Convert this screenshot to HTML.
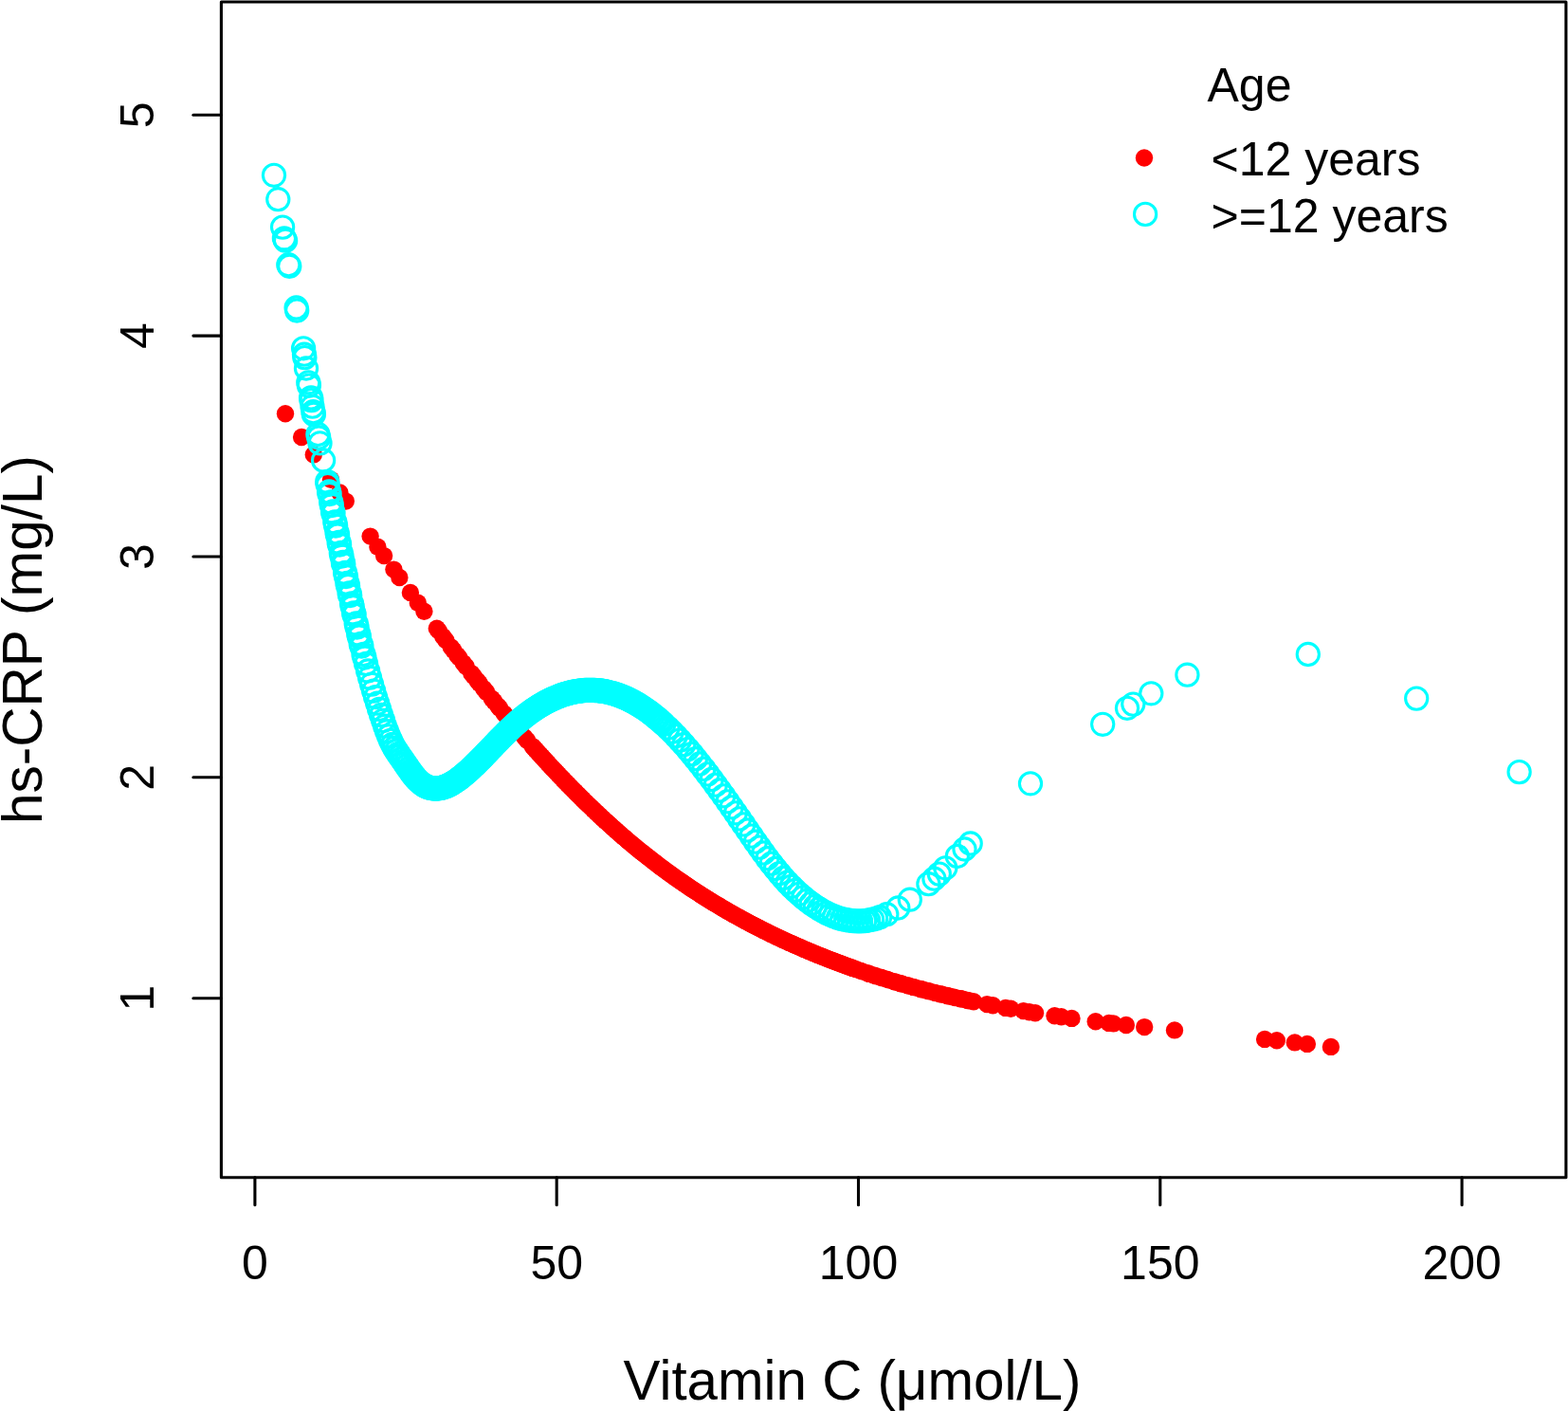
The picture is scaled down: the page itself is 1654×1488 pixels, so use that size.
<!DOCTYPE html>
<html><head><meta charset="utf-8"><style>
html,body{margin:0;padding:0;background:#fff;overflow:hidden}
svg{display:block}
</style></head><body>
<svg width="1654" height="1488" viewBox="0 0 1654 1488" font-family="'Liberation Sans', Arial, sans-serif">
<rect width="1654" height="1488" fill="#fff"/>
<g fill="#f00"><circle cx="301" cy="436.2" r="9.2"/><circle cx="318.1" cy="461" r="9.2"/><circle cx="330.8" cy="479.4" r="9.2"/><circle cx="349" cy="505.8" r="9.2"/><circle cx="358.4" cy="519.4" r="9.2"/><circle cx="364.8" cy="528.6" r="9.2"/><circle cx="390.6" cy="565.6" r="9.2"/><circle cx="398.4" cy="576.7" r="9.2"/><circle cx="405.1" cy="586.1" r="9.2"/><circle cx="415.4" cy="600.6" r="9.2"/><circle cx="421.4" cy="609" r="9.2"/><circle cx="432.9" cy="624.9" r="9.2"/><circle cx="440.8" cy="635.7" r="9.2"/><circle cx="447.4" cy="644.7" r="9.2"/><circle cx="1041.2" cy="1059.1" r="9.2"/><circle cx="1047.3" cy="1060.3" r="9.2"/><circle cx="1060.8" cy="1062.9" r="9.2"/><circle cx="1066.2" cy="1063.8" r="9.2"/><circle cx="1079.6" cy="1066.1" r="9.2"/><circle cx="1085.8" cy="1067.2" r="9.2"/><circle cx="1092" cy="1068.2" r="9.2"/><circle cx="1112.5" cy="1071.3" r="9.2"/><circle cx="1119.5" cy="1072.3" r="9.2"/><circle cx="1130.5" cy="1073.9" r="9.2"/><circle cx="1155.7" cy="1077.2" r="9.2"/><circle cx="1169.8" cy="1078.9" r="9.2"/><circle cx="1174.5" cy="1079.4" r="9.2"/><circle cx="1187.9" cy="1081" r="9.2"/><circle cx="1207.2" cy="1083.1" r="9.2"/><circle cx="1239" cy="1086.4" r="9.2"/><circle cx="1334.1" cy="1095.9" r="9.2"/><circle cx="1346.8" cy="1097.3" r="9.2"/><circle cx="1365.8" cy="1099.4" r="9.2"/><circle cx="1378.9" cy="1100.9" r="9.2"/><circle cx="1403.9" cy="1103.9" r="9.2"/><circle cx="460.8" cy="662.7" r="9.2"/><circle cx="462.8" cy="665.3" r="9.2"/><circle cx="467.3" cy="671.3" r="9.2"/><circle cx="470.3" cy="675.2" r="9.2"/><circle cx="475.8" cy="682.4" r="9.2"/><circle cx="478.3" cy="685.7" r="9.2"/><circle cx="482.3" cy="690.9" r="9.2"/><circle cx="484.3" cy="693.5" r="9.2"/><circle cx="488.8" cy="699.2" r="9.2"/><circle cx="491.8" cy="703.1" r="9.2"/><circle cx="497.3" cy="710.1" r="9.2"/><circle cx="499.8" cy="713.2" r="9.2"/><circle cx="503.8" cy="718.2" r="9.2"/><circle cx="505.8" cy="720.7" r="9.2"/><circle cx="510.3" cy="726.3" r="9.2"/><circle cx="513.3" cy="730" r="9.2"/><circle cx="518.8" cy="736.7" r="9.2"/><circle cx="521.3" cy="739.8" r="9.2"/><circle cx="525.3" cy="744.6" r="9.2"/><circle cx="527.3" cy="747" r="9.2"/><circle cx="531.8" cy="752.4" r="9.2"/><circle cx="534.8" cy="756" r="9.2"/><circle cx="540.3" cy="762.4" r="9.2"/><circle cx="542.8" cy="765.4" r="9.2"/><circle cx="546.8" cy="770" r="9.2"/><circle cx="548.8" cy="772.3" r="9.2"/><circle cx="553.3" cy="777.5" r="9.2"/><circle cx="556.3" cy="780.9" r="9.2"/><circle cx="561.8" cy="787.1" r="9.2"/><circle cx="563.4" cy="788.9" r="9.2"/><circle cx="565" cy="790.7" r="9.2"/><circle cx="566.6" cy="792.5" r="9.2"/><circle cx="568.2" cy="794.2" r="9.2"/><circle cx="569.8" cy="796" r="9.2"/><circle cx="571.4" cy="797.8" r="9.2"/><circle cx="573" cy="799.5" r="9.2"/><circle cx="574.6" cy="801.3" r="9.2"/><circle cx="576.2" cy="803" r="9.2"/><circle cx="577.8" cy="804.7" r="9.2"/><circle cx="579.4" cy="806.5" r="9.2"/><circle cx="581" cy="808.2" r="9.2"/><circle cx="582.6" cy="809.9" r="9.2"/><circle cx="584.2" cy="811.6" r="9.2"/><circle cx="585.8" cy="813.3" r="9.2"/><circle cx="587.4" cy="815" r="9.2"/><circle cx="589" cy="816.7" r="9.2"/><circle cx="590.6" cy="818.4" r="9.2"/><circle cx="592.2" cy="820.1" r="9.2"/><circle cx="593.8" cy="821.7" r="9.2"/><circle cx="595.4" cy="823.4" r="9.2"/><circle cx="597" cy="825" r="9.2"/><circle cx="598.6" cy="826.7" r="9.2"/><circle cx="600.2" cy="828.3" r="9.2"/><circle cx="601.8" cy="830" r="9.2"/><circle cx="603.4" cy="831.6" r="9.2"/><circle cx="605" cy="833.2" r="9.2"/><circle cx="606.6" cy="834.8" r="9.2"/><circle cx="608.2" cy="836.4" r="9.2"/><circle cx="609.8" cy="838" r="9.2"/><circle cx="611.4" cy="839.6" r="9.2"/><circle cx="613" cy="841.2" r="9.2"/><circle cx="614.6" cy="842.8" r="9.2"/><circle cx="616.2" cy="844.4" r="9.2"/><circle cx="617.8" cy="845.9" r="9.2"/><circle cx="619.4" cy="847.5" r="9.2"/><circle cx="621" cy="849.1" r="9.2"/><circle cx="622.6" cy="850.6" r="9.2"/><circle cx="624.2" cy="852.1" r="9.2"/><circle cx="625.8" cy="853.7" r="9.2"/><circle cx="627.4" cy="855.2" r="9.2"/><circle cx="629" cy="856.7" r="9.2"/><circle cx="630.6" cy="858.2" r="9.2"/><circle cx="632.2" cy="859.7" r="9.2"/><circle cx="633.8" cy="861.2" r="9.2"/><circle cx="635.4" cy="862.7" r="9.2"/><circle cx="637" cy="864.2" r="9.2"/><circle cx="638.6" cy="865.7" r="9.2"/><circle cx="640.2" cy="867.1" r="9.2"/><circle cx="641.8" cy="868.6" r="9.2"/><circle cx="643.4" cy="870" r="9.2"/><circle cx="645" cy="871.5" r="9.2"/><circle cx="646.6" cy="872.9" r="9.2"/><circle cx="648.2" cy="874.3" r="9.2"/><circle cx="649.8" cy="875.8" r="9.2"/><circle cx="651.4" cy="877.2" r="9.2"/><circle cx="653" cy="878.6" r="9.2"/><circle cx="654.6" cy="880" r="9.2"/><circle cx="656.2" cy="881.4" r="9.2"/><circle cx="657.8" cy="882.8" r="9.2"/><circle cx="659.4" cy="884.1" r="9.2"/><circle cx="661" cy="885.5" r="9.2"/><circle cx="662.6" cy="886.9" r="9.2"/><circle cx="664.2" cy="888.2" r="9.2"/><circle cx="665.8" cy="889.6" r="9.2"/><circle cx="667.4" cy="890.9" r="9.2"/><circle cx="669" cy="892.2" r="9.2"/><circle cx="670.6" cy="893.5" r="9.2"/><circle cx="672.2" cy="894.9" r="9.2"/><circle cx="673.8" cy="896.2" r="9.2"/><circle cx="675.4" cy="897.5" r="9.2"/><circle cx="677" cy="898.8" r="9.2"/><circle cx="678.6" cy="900" r="9.2"/><circle cx="680.2" cy="901.3" r="9.2"/><circle cx="681.8" cy="902.6" r="9.2"/><circle cx="683.4" cy="903.8" r="9.2"/><circle cx="685" cy="905.1" r="9.2"/><circle cx="686.6" cy="906.3" r="9.2"/><circle cx="688.2" cy="907.6" r="9.2"/><circle cx="689.8" cy="908.8" r="9.2"/><circle cx="691.4" cy="910" r="9.2"/><circle cx="693" cy="911.3" r="9.2"/><circle cx="694.6" cy="912.5" r="9.2"/><circle cx="696.2" cy="913.7" r="9.2"/><circle cx="697.8" cy="914.9" r="9.2"/><circle cx="699.4" cy="916.1" r="9.2"/><circle cx="701" cy="917.3" r="9.2"/><circle cx="702.6" cy="918.4" r="9.2"/><circle cx="704.2" cy="919.6" r="9.2"/><circle cx="705.8" cy="920.8" r="9.2"/><circle cx="707.4" cy="921.9" r="9.2"/><circle cx="709" cy="923.1" r="9.2"/><circle cx="710.6" cy="924.2" r="9.2"/><circle cx="712.2" cy="925.4" r="9.2"/><circle cx="713.8" cy="926.5" r="9.2"/><circle cx="715.4" cy="927.6" r="9.2"/><circle cx="717" cy="928.7" r="9.2"/><circle cx="718.6" cy="929.8" r="9.2"/><circle cx="720.2" cy="930.9" r="9.2"/><circle cx="721.8" cy="932" r="9.2"/><circle cx="723.4" cy="933.1" r="9.2"/><circle cx="725" cy="934.2" r="9.2"/><circle cx="726.6" cy="935.3" r="9.2"/><circle cx="728.2" cy="936.4" r="9.2"/><circle cx="729.8" cy="937.4" r="9.2"/><circle cx="731.4" cy="938.5" r="9.2"/><circle cx="733" cy="939.5" r="9.2"/><circle cx="734.6" cy="940.6" r="9.2"/><circle cx="736.2" cy="941.6" r="9.2"/><circle cx="737.8" cy="942.6" r="9.2"/><circle cx="739.4" cy="943.7" r="9.2"/><circle cx="741" cy="944.7" r="9.2"/><circle cx="742.6" cy="945.7" r="9.2"/><circle cx="744.2" cy="946.7" r="9.2"/><circle cx="745.8" cy="947.7" r="9.2"/><circle cx="747.4" cy="948.7" r="9.2"/><circle cx="749" cy="949.7" r="9.2"/><circle cx="750.6" cy="950.7" r="9.2"/><circle cx="752.2" cy="951.7" r="9.2"/><circle cx="753.8" cy="952.7" r="9.2"/><circle cx="755.4" cy="953.6" r="9.2"/><circle cx="757" cy="954.6" r="9.2"/><circle cx="758.6" cy="955.5" r="9.2"/><circle cx="760.2" cy="956.5" r="9.2"/><circle cx="761.8" cy="957.4" r="9.2"/><circle cx="763.4" cy="958.4" r="9.2"/><circle cx="765" cy="959.3" r="9.2"/><circle cx="766.6" cy="960.2" r="9.2"/><circle cx="768.2" cy="961.2" r="9.2"/><circle cx="769.8" cy="962.1" r="9.2"/><circle cx="771.4" cy="963" r="9.2"/><circle cx="773" cy="963.9" r="9.2"/><circle cx="774.6" cy="964.8" r="9.2"/><circle cx="776.2" cy="965.7" r="9.2"/><circle cx="777.8" cy="966.6" r="9.2"/><circle cx="779.4" cy="967.5" r="9.2"/><circle cx="781" cy="968.3" r="9.2"/><circle cx="782.6" cy="969.2" r="9.2"/><circle cx="784.2" cy="970.1" r="9.2"/><circle cx="785.8" cy="970.9" r="9.2"/><circle cx="787.4" cy="971.8" r="9.2"/><circle cx="789" cy="972.7" r="9.2"/><circle cx="790.6" cy="973.5" r="9.2"/><circle cx="792.2" cy="974.4" r="9.2"/><circle cx="793.8" cy="975.2" r="9.2"/><circle cx="795.4" cy="976" r="9.2"/><circle cx="797" cy="976.8" r="9.2"/><circle cx="798.6" cy="977.7" r="9.2"/><circle cx="800.2" cy="978.5" r="9.2"/><circle cx="801.8" cy="979.3" r="9.2"/><circle cx="803.4" cy="980.1" r="9.2"/><circle cx="805" cy="980.9" r="9.2"/><circle cx="806.6" cy="981.7" r="9.2"/><circle cx="808.2" cy="982.5" r="9.2"/><circle cx="809.8" cy="983.3" r="9.2"/><circle cx="811.4" cy="984.1" r="9.2"/><circle cx="813" cy="984.9" r="9.2"/><circle cx="814.6" cy="985.6" r="9.2"/><circle cx="816.2" cy="986.4" r="9.2"/><circle cx="817.8" cy="987.2" r="9.2"/><circle cx="819.4" cy="987.9" r="9.2"/><circle cx="821" cy="988.7" r="9.2"/><circle cx="822.6" cy="989.4" r="9.2"/><circle cx="824.2" cy="990.2" r="9.2"/><circle cx="825.8" cy="990.9" r="9.2"/><circle cx="827.4" cy="991.7" r="9.2"/><circle cx="829" cy="992.4" r="9.2"/><circle cx="830.6" cy="993.1" r="9.2"/><circle cx="832.2" cy="993.9" r="9.2"/><circle cx="833.8" cy="994.6" r="9.2"/><circle cx="835.4" cy="995.3" r="9.2"/><circle cx="837" cy="996" r="9.2"/><circle cx="838.6" cy="996.7" r="9.2"/><circle cx="840.2" cy="997.4" r="9.2"/><circle cx="841.8" cy="998.1" r="9.2"/><circle cx="843.4" cy="998.8" r="9.2"/><circle cx="845" cy="999.5" r="9.2"/><circle cx="846.6" cy="1000.2" r="9.2"/><circle cx="848.2" cy="1000.9" r="9.2"/><circle cx="849.8" cy="1001.6" r="9.2"/><circle cx="851.4" cy="1002.3" r="9.2"/><circle cx="853" cy="1003" r="9.2"/><circle cx="854.6" cy="1003.6" r="9.2"/><circle cx="856.2" cy="1004.3" r="9.2"/><circle cx="857.8" cy="1005" r="9.2"/><circle cx="859.4" cy="1005.6" r="9.2"/><circle cx="861" cy="1006.3" r="9.2"/><circle cx="862.6" cy="1006.9" r="9.2"/><circle cx="864.2" cy="1007.6" r="9.2"/><circle cx="865.8" cy="1008.2" r="9.2"/><circle cx="867.4" cy="1008.8" r="9.2"/><circle cx="869" cy="1009.5" r="9.2"/><circle cx="870.6" cy="1010.1" r="9.2"/><circle cx="872.2" cy="1010.7" r="9.2"/><circle cx="873.8" cy="1011.4" r="9.2"/><circle cx="875.4" cy="1012" r="9.2"/><circle cx="877" cy="1012.6" r="9.2"/><circle cx="878.6" cy="1013.2" r="9.2"/><circle cx="880.2" cy="1013.8" r="9.2"/><circle cx="881.8" cy="1014.4" r="9.2"/><circle cx="883.4" cy="1015" r="9.2"/><circle cx="885" cy="1015.6" r="9.2"/><circle cx="886.6" cy="1016.2" r="9.2"/><circle cx="888.2" cy="1016.8" r="9.2"/><circle cx="889.8" cy="1017.4" r="9.2"/><circle cx="891.4" cy="1018" r="9.2"/><circle cx="893" cy="1018.6" r="9.2"/><circle cx="894.6" cy="1019.2" r="9.2"/><circle cx="896.2" cy="1019.7" r="9.2"/><circle cx="897.8" cy="1020.3" r="9.2"/><circle cx="899.4" cy="1020.9" r="9.2"/><circle cx="901" cy="1021.4" r="9.2"/><circle cx="903" cy="1022.1" r="9.2"/><circle cx="907.5" cy="1023.7" r="9.2"/><circle cx="910" cy="1024.6" r="9.2"/><circle cx="915" cy="1026.2" r="9.2"/><circle cx="917" cy="1026.9" r="9.2"/><circle cx="921.5" cy="1028.4" r="9.2"/><circle cx="924" cy="1029.2" r="9.2"/><circle cx="929" cy="1030.8" r="9.2"/><circle cx="931" cy="1031.4" r="9.2"/><circle cx="935.5" cy="1032.8" r="9.2"/><circle cx="938" cy="1033.6" r="9.2"/><circle cx="943" cy="1035.1" r="9.2"/><circle cx="945" cy="1035.7" r="9.2"/><circle cx="949.5" cy="1037" r="9.2"/><circle cx="952" cy="1037.7" r="9.2"/><circle cx="957" cy="1039.1" r="9.2"/><circle cx="959" cy="1039.7" r="9.2"/><circle cx="963.5" cy="1040.9" r="9.2"/><circle cx="966" cy="1041.6" r="9.2"/><circle cx="971" cy="1043" r="9.2"/><circle cx="973" cy="1043.5" r="9.2"/><circle cx="977.5" cy="1044.7" r="9.2"/><circle cx="980" cy="1045.3" r="9.2"/><circle cx="985" cy="1046.6" r="9.2"/><circle cx="987" cy="1047.1" r="9.2"/><circle cx="991.5" cy="1048.2" r="9.2"/><circle cx="994" cy="1048.8" r="9.2"/><circle cx="999" cy="1050" r="9.2"/><circle cx="1001" cy="1050.5" r="9.2"/><circle cx="1005.5" cy="1051.5" r="9.2"/><circle cx="1008" cy="1052.1" r="9.2"/><circle cx="1013" cy="1053.2" r="9.2"/><circle cx="1015" cy="1053.6" r="9.2"/><circle cx="1019.5" cy="1054.6" r="9.2"/><circle cx="1022" cy="1055.2" r="9.2"/><circle cx="1027" cy="1056.2" r="9.2"/></g>
<g fill="none" stroke="#0ff" stroke-width="3.1"><circle cx="289" cy="184.8" r="11.6"/><circle cx="293.3" cy="210.2" r="11.6"/><circle cx="298.1" cy="239.6" r="11.6"/><circle cx="299.9" cy="251.3" r="11.6"/><circle cx="301.1" cy="253.7" r="11.6"/><circle cx="304.3" cy="279.2" r="11.6"/><circle cx="305.3" cy="280.8" r="11.6"/><circle cx="312.6" cy="324.5" r="11.6"/><circle cx="313.2" cy="327.5" r="11.6"/><circle cx="1087" cy="826.3" r="11.6"/><circle cx="1163.2" cy="763.8" r="11.6"/><circle cx="1189" cy="746.8" r="11.6"/><circle cx="1195.3" cy="742.6" r="11.6"/><circle cx="1214.3" cy="731.3" r="11.6"/><circle cx="1252.4" cy="711.7" r="11.6"/><circle cx="1379.8" cy="690" r="11.6"/><circle cx="1494.2" cy="736.6" r="11.6"/><circle cx="1602.6" cy="814.1" r="11.6"/><circle cx="320.1" cy="367.3" r="11.6"/><circle cx="321" cy="373.7" r="11.6"/><circle cx="321.4" cy="377.1" r="11.6"/><circle cx="323" cy="388.5" r="11.6"/><circle cx="325.3" cy="403.3" r="11.6"/><circle cx="325.9" cy="406.6" r="11.6"/><circle cx="328.1" cy="419.4" r="11.6"/><circle cx="328.5" cy="422.1" r="11.6"/><circle cx="329.5" cy="428.7" r="11.6"/><circle cx="330.4" cy="434.2" r="11.6"/><circle cx="330.9" cy="436.9" r="11.6"/><circle cx="335.4" cy="458" r="11.6"/><circle cx="336.2" cy="461.5" r="11.6"/><circle cx="337.5" cy="467.4" r="11.6"/><circle cx="341.1" cy="485.5" r="11.6"/><circle cx="345.2" cy="508" r="11.6"/><circle cx="345.7" cy="511" r="11.6"/><circle cx="347.1" cy="518.5" r="11.6"/><circle cx="347.6" cy="521" r="11.6"/><circle cx="349.2" cy="529.5" r="11.6"/><circle cx="349.9" cy="533" r="11.6"/><circle cx="351.1" cy="539.5" r="11.6"/><circle cx="351.5" cy="541.5" r="11.6"/><circle cx="353.3" cy="550.5" r="11.6"/><circle cx="354.1" cy="554.5" r="11.6"/><circle cx="355.5" cy="561.5" r="11.6"/><circle cx="356.1" cy="564.5" r="11.6"/><circle cx="357.6" cy="572" r="11.6"/><circle cx="358.1" cy="574.5" r="11.6"/><circle cx="359.8" cy="583" r="11.6"/><circle cx="360.5" cy="586.5" r="11.6"/><circle cx="361.9" cy="593" r="11.6"/><circle cx="362.3" cy="595" r="11.6"/><circle cx="364.1" cy="604" r="11.6"/><circle cx="365" cy="608" r="11.6"/><circle cx="366.4" cy="615" r="11.6"/><circle cx="367.1" cy="618" r="11.6"/><circle cx="368.6" cy="625.5" r="11.6"/><circle cx="369.2" cy="628" r="11.6"/><circle cx="371" cy="636.5" r="11.6"/><circle cx="371.8" cy="640" r="11.6"/><circle cx="373.2" cy="646.5" r="11.6"/><circle cx="373.6" cy="648.5" r="11.6"/><circle cx="375.7" cy="657.5" r="11.6"/><circle cx="376.6" cy="661.5" r="11.6"/><circle cx="378.2" cy="668.5" r="11.6"/><circle cx="378.9" cy="671.5" r="11.6"/><circle cx="380.7" cy="679" r="11.6"/><circle cx="381.4" cy="681.5" r="11.6"/><circle cx="383.5" cy="690" r="11.6"/><circle cx="384.4" cy="693.5" r="11.6"/><circle cx="386.1" cy="700" r="11.6"/><circle cx="388.1" cy="707.5" r="11.6"/><circle cx="390.1" cy="714.7" r="11.6"/><circle cx="392.1" cy="721.7" r="11.6"/><circle cx="394.1" cy="728.6" r="11.6"/><circle cx="396.1" cy="735.2" r="11.6"/><circle cx="398.1" cy="741.6" r="11.6"/><circle cx="400.1" cy="747.9" r="11.6"/><circle cx="402.1" cy="754" r="11.6"/><circle cx="404.1" cy="759.9" r="11.6"/><circle cx="406.1" cy="765.7" r="11.6"/><circle cx="408.1" cy="771.2" r="11.6"/><circle cx="410.1" cy="776.3" r="11.6"/><circle cx="412.1" cy="780.9" r="11.6"/><circle cx="414.1" cy="785" r="11.6"/><circle cx="416.1" cy="788.7" r="11.6"/><circle cx="418.1" cy="791.9" r="11.6"/><circle cx="420.1" cy="794.9" r="11.6"/><circle cx="421.9" cy="797.5" r="11.6"/><circle cx="423.7" cy="800.1" r="11.6"/><circle cx="425.5" cy="802.6" r="11.6"/><circle cx="427.3" cy="805.2" r="11.6"/><circle cx="429.1" cy="807.9" r="11.6"/><circle cx="430.9" cy="810.5" r="11.6"/><circle cx="432.7" cy="813.1" r="11.6"/><circle cx="434.5" cy="815.6" r="11.6"/><circle cx="436.3" cy="817.9" r="11.6"/><circle cx="438.1" cy="820.1" r="11.6"/><circle cx="439.9" cy="822.1" r="11.6"/><circle cx="441.7" cy="823.8" r="11.6"/><circle cx="443.5" cy="825.4" r="11.6"/><circle cx="445.3" cy="826.8" r="11.6"/><circle cx="446.6" cy="827.6" r="11.6"/><circle cx="447.9" cy="828.4" r="11.6"/><circle cx="449.2" cy="829.1" r="11.6"/><circle cx="450.5" cy="829.7" r="11.6"/><circle cx="451.8" cy="830.2" r="11.6"/><circle cx="453.1" cy="830.6" r="11.6"/><circle cx="454.4" cy="831" r="11.6"/><circle cx="455.7" cy="831.2" r="11.6"/><circle cx="457" cy="831.4" r="11.6"/><circle cx="458.3" cy="831.5" r="11.6"/><circle cx="459.6" cy="831.6" r="11.6"/><circle cx="460.9" cy="831.5" r="11.6"/><circle cx="462.4" cy="831.4" r="11.6"/><circle cx="463.9" cy="831.2" r="11.6"/><circle cx="465.4" cy="830.9" r="11.6"/><circle cx="466.9" cy="830.5" r="11.6"/><circle cx="468.4" cy="830" r="11.6"/><circle cx="469.9" cy="829.5" r="11.6"/><circle cx="471.4" cy="828.9" r="11.6"/><circle cx="472.9" cy="828.2" r="11.6"/><circle cx="474.4" cy="827.4" r="11.6"/><circle cx="475.9" cy="826.6" r="11.6"/><circle cx="477.4" cy="825.7" r="11.6"/><circle cx="478.9" cy="824.8" r="11.6"/><circle cx="480.4" cy="823.8" r="11.6"/><circle cx="481.9" cy="822.8" r="11.6"/><circle cx="483.4" cy="821.7" r="11.6"/><circle cx="484.9" cy="820.6" r="11.6"/><circle cx="486.4" cy="819.4" r="11.6"/><circle cx="487.9" cy="818.2" r="11.6"/><circle cx="489.4" cy="817" r="11.6"/><circle cx="490.9" cy="815.7" r="11.6"/><circle cx="492.4" cy="814.4" r="11.6"/><circle cx="493.9" cy="813.1" r="11.6"/><circle cx="495.4" cy="811.8" r="11.6"/><circle cx="496.9" cy="810.4" r="11.6"/><circle cx="498.4" cy="809" r="11.6"/><circle cx="499.9" cy="807.5" r="11.6"/><circle cx="501.4" cy="806.1" r="11.6"/><circle cx="502.9" cy="804.6" r="11.6"/><circle cx="504.4" cy="803.1" r="11.6"/><circle cx="505.9" cy="801.6" r="11.6"/><circle cx="507.4" cy="800.1" r="11.6"/><circle cx="508.9" cy="798.6" r="11.6"/><circle cx="510.4" cy="797.1" r="11.6"/><circle cx="511.9" cy="795.5" r="11.6"/><circle cx="513.4" cy="793.9" r="11.6"/><circle cx="514.9" cy="792.4" r="11.6"/><circle cx="516.4" cy="790.8" r="11.6"/><circle cx="517.9" cy="789.2" r="11.6"/><circle cx="519.4" cy="787.7" r="11.6"/><circle cx="520.9" cy="786.1" r="11.6"/><circle cx="522.4" cy="784.5" r="11.6"/><circle cx="523.9" cy="783" r="11.6"/><circle cx="525.4" cy="781.4" r="11.6"/><circle cx="526.9" cy="779.9" r="11.6"/><circle cx="528.4" cy="778.3" r="11.6"/><circle cx="529.9" cy="776.8" r="11.6"/><circle cx="531.4" cy="775.3" r="11.6"/><circle cx="532.9" cy="773.8" r="11.6"/><circle cx="534.4" cy="772.3" r="11.6"/><circle cx="535.9" cy="770.8" r="11.6"/><circle cx="537.4" cy="769.4" r="11.6"/><circle cx="538.9" cy="768" r="11.6"/><circle cx="540.4" cy="766.5" r="11.6"/><circle cx="541.9" cy="765.2" r="11.6"/><circle cx="543.4" cy="763.8" r="11.6"/><circle cx="544.9" cy="762.5" r="11.6"/><circle cx="546.4" cy="761.2" r="11.6"/><circle cx="547.9" cy="759.9" r="11.6"/><circle cx="549.4" cy="758.6" r="11.6"/><circle cx="550.9" cy="757.4" r="11.6"/><circle cx="552.4" cy="756.2" r="11.6"/><circle cx="553.9" cy="755" r="11.6"/><circle cx="555.4" cy="753.9" r="11.6"/><circle cx="556.9" cy="752.7" r="11.6"/><circle cx="558.4" cy="751.6" r="11.6"/><circle cx="559.9" cy="750.5" r="11.6"/><circle cx="561.4" cy="749.5" r="11.6"/><circle cx="562.9" cy="748.4" r="11.6"/><circle cx="564.4" cy="747.4" r="11.6"/><circle cx="565.9" cy="746.4" r="11.6"/><circle cx="567.4" cy="745.5" r="11.6"/><circle cx="568.9" cy="744.5" r="11.6"/><circle cx="570.4" cy="743.6" r="11.6"/><circle cx="571.9" cy="742.7" r="11.6"/><circle cx="573.4" cy="741.9" r="11.6"/><circle cx="574.9" cy="741" r="11.6"/><circle cx="576.4" cy="740.2" r="11.6"/><circle cx="577.9" cy="739.4" r="11.6"/><circle cx="579.4" cy="738.7" r="11.6"/><circle cx="580.9" cy="738" r="11.6"/><circle cx="582.4" cy="737.2" r="11.6"/><circle cx="583.9" cy="736.6" r="11.6"/><circle cx="585.4" cy="735.9" r="11.6"/><circle cx="586.9" cy="735.3" r="11.6"/><circle cx="588.4" cy="734.7" r="11.6"/><circle cx="589.9" cy="734.1" r="11.6"/><circle cx="591.4" cy="733.5" r="11.6"/><circle cx="592.9" cy="733" r="11.6"/><circle cx="594.4" cy="732.5" r="11.6"/><circle cx="595.9" cy="732" r="11.6"/><circle cx="597.4" cy="731.6" r="11.6"/><circle cx="598.9" cy="731.1" r="11.6"/><circle cx="600.4" cy="730.7" r="11.6"/><circle cx="601.9" cy="730.4" r="11.6"/><circle cx="603.4" cy="730" r="11.6"/><circle cx="604.9" cy="729.7" r="11.6"/><circle cx="606.4" cy="729.4" r="11.6"/><circle cx="607.9" cy="729.1" r="11.6"/><circle cx="609.4" cy="728.9" r="11.6"/><circle cx="610.9" cy="728.6" r="11.6"/><circle cx="612.4" cy="728.5" r="11.6"/><circle cx="613.9" cy="728.3" r="11.6"/><circle cx="615.4" cy="728.1" r="11.6"/><circle cx="616.9" cy="728" r="11.6"/><circle cx="618.4" cy="727.9" r="11.6"/><circle cx="619.9" cy="727.9" r="11.6"/><circle cx="621.4" cy="727.8" r="11.6"/><circle cx="622.9" cy="727.8" r="11.6"/><circle cx="624.4" cy="727.9" r="11.6"/><circle cx="625.9" cy="727.9" r="11.6"/><circle cx="627.4" cy="728" r="11.6"/><circle cx="628.9" cy="728.1" r="11.6"/><circle cx="630.4" cy="728.2" r="11.6"/><circle cx="631.9" cy="728.3" r="11.6"/><circle cx="633.4" cy="728.5" r="11.6"/><circle cx="634.9" cy="728.7" r="11.6"/><circle cx="636.4" cy="728.9" r="11.6"/><circle cx="637.9" cy="729.2" r="11.6"/><circle cx="639.4" cy="729.5" r="11.6"/><circle cx="640.9" cy="729.8" r="11.6"/><circle cx="643.1" cy="730.3" r="11.6"/><circle cx="645.3" cy="730.9" r="11.6"/><circle cx="647.5" cy="731.5" r="11.6"/><circle cx="649.7" cy="732.2" r="11.6"/><circle cx="651.9" cy="732.9" r="11.6"/><circle cx="654.1" cy="733.7" r="11.6"/><circle cx="656.3" cy="734.6" r="11.6"/><circle cx="658.5" cy="735.5" r="11.6"/><circle cx="660.7" cy="736.5" r="11.6"/><circle cx="662.9" cy="737.5" r="11.6"/><circle cx="665.1" cy="738.6" r="11.6"/><circle cx="667.3" cy="739.7" r="11.6"/><circle cx="669.5" cy="740.9" r="11.6"/><circle cx="671.7" cy="742.2" r="11.6"/><circle cx="673.9" cy="743.5" r="11.6"/><circle cx="676.1" cy="744.9" r="11.6"/><circle cx="678.3" cy="746.3" r="11.6"/><circle cx="680.5" cy="747.8" r="11.6"/><circle cx="682.7" cy="749.3" r="11.6"/><circle cx="684.9" cy="750.9" r="11.6"/><circle cx="687.1" cy="752.6" r="11.6"/><circle cx="689.3" cy="754.3" r="11.6"/><circle cx="691.5" cy="756.1" r="11.6"/><circle cx="693.7" cy="757.9" r="11.6"/><circle cx="695.9" cy="759.7" r="11.6"/><circle cx="698.1" cy="761.7" r="11.6"/><circle cx="700.3" cy="763.7" r="11.6"/><circle cx="704.5" cy="767.6" r="11.6"/><circle cx="708.7" cy="771.7" r="11.6"/><circle cx="712.9" cy="776.1" r="11.6"/><circle cx="717.1" cy="780.6" r="11.6"/><circle cx="721.3" cy="785.2" r="11.6"/><circle cx="725.5" cy="790.1" r="11.6"/><circle cx="729.7" cy="795.1" r="11.6"/><circle cx="733.9" cy="800.2" r="11.6"/><circle cx="738.1" cy="805.5" r="11.6"/><circle cx="742.3" cy="810.9" r="11.6"/><circle cx="746.5" cy="816.4" r="11.6"/><circle cx="750.7" cy="822" r="11.6"/><circle cx="754.9" cy="827.7" r="11.6"/><circle cx="759.1" cy="833.5" r="11.6"/><circle cx="763.3" cy="839.3" r="11.6"/><circle cx="767.5" cy="845.3" r="11.6"/><circle cx="771.7" cy="851.3" r="11.6"/><circle cx="775.9" cy="857.3" r="11.6"/><circle cx="780.1" cy="863.4" r="11.6"/><circle cx="784.3" cy="869.4" r="11.6"/><circle cx="788.5" cy="875.5" r="11.6"/><circle cx="792.7" cy="881.6" r="11.6"/><circle cx="796.9" cy="887.7" r="11.6"/><circle cx="801.1" cy="893.6" r="11.6"/><circle cx="805.3" cy="899.5" r="11.6"/><circle cx="809.5" cy="905.2" r="11.6"/><circle cx="813.7" cy="910.7" r="11.6"/><circle cx="817.9" cy="916" r="11.6"/><circle cx="822.1" cy="921.1" r="11.6"/><circle cx="826.3" cy="926" r="11.6"/><circle cx="830.5" cy="930.6" r="11.6"/><circle cx="834.7" cy="934.9" r="11.6"/><circle cx="838.9" cy="939" r="11.6"/><circle cx="843.1" cy="942.8" r="11.6"/><circle cx="847.3" cy="946.4" r="11.6"/><circle cx="851.5" cy="949.8" r="11.6"/><circle cx="855.7" cy="952.9" r="11.6"/><circle cx="859.9" cy="955.8" r="11.6"/><circle cx="864.1" cy="958.5" r="11.6"/><circle cx="868.1" cy="960.8" r="11.6"/><circle cx="872.1" cy="962.9" r="11.6"/><circle cx="876.1" cy="964.8" r="11.6"/><circle cx="880.1" cy="966.4" r="11.6"/><circle cx="884.1" cy="967.9" r="11.6"/><circle cx="888.1" cy="969.1" r="11.6"/><circle cx="892.1" cy="970" r="11.6"/><circle cx="896.1" cy="970.7" r="11.6"/><circle cx="900.1" cy="971.2" r="11.6"/><circle cx="904.1" cy="971.4" r="11.6"/><circle cx="908.1" cy="971.4" r="11.6"/><circle cx="912.1" cy="971.1" r="11.6"/><circle cx="916.1" cy="970.5" r="11.6"/><circle cx="920.1" cy="969.7" r="11.6"/><circle cx="924.1" cy="968.6" r="11.6"/><circle cx="928.1" cy="967.2" r="11.6"/><circle cx="935.3" cy="964.2" r="11.6"/><circle cx="947.3" cy="957.5" r="11.6"/><circle cx="959.8" cy="948.7" r="11.6"/><circle cx="979.4" cy="932.2" r="11.6"/><circle cx="985.4" cy="926.7" r="11.6"/><circle cx="990.8" cy="921.6" r="11.6"/><circle cx="997.3" cy="915.3" r="11.6"/><circle cx="1009.8" cy="903" r="11.6"/><circle cx="1017.5" cy="895.5" r="11.6"/><circle cx="1023.7" cy="889.5" r="11.6"/></g>
<g stroke="#000" stroke-width="3.1" stroke-linecap="round" fill="none">
<rect x="233.4" y="2.05" width="1418.5" height="1239.65" stroke-linejoin="round"/>
<line x1="268.9" y1="1241.7" x2="268.9" y2="1270.8"/><line x1="587.2" y1="1241.7" x2="587.2" y2="1270.8"/><line x1="905.5" y1="1241.7" x2="905.5" y2="1270.8"/><line x1="1223.8" y1="1241.7" x2="1223.8" y2="1270.8"/><line x1="1542.1" y1="1241.7" x2="1542.1" y2="1270.8"/><line x1="203.9" y1="121.25" x2="233.4" y2="121.25"/><line x1="203.9" y1="354.1" x2="233.4" y2="354.1"/><line x1="203.9" y1="587" x2="233.4" y2="587"/><line x1="203.9" y1="819.8" x2="233.4" y2="819.8"/><line x1="203.9" y1="1052.7" x2="233.4" y2="1052.7"/>
</g>
<g font-size="50" fill="#000"><text x="268.9" y="1348.8" text-anchor="middle">0</text><text x="587.2" y="1348.8" text-anchor="middle">50</text><text x="905.5" y="1348.8" text-anchor="middle">100</text><text x="1223.8" y="1348.8" text-anchor="middle">150</text><text x="1542.1" y="1348.8" text-anchor="middle">200</text><text transform="translate(162.3 121.25) rotate(-90)" text-anchor="middle">5</text><text transform="translate(162.3 354.1) rotate(-90)" text-anchor="middle">4</text><text transform="translate(162.3 587) rotate(-90)" text-anchor="middle">3</text><text transform="translate(162.3 819.8) rotate(-90)" text-anchor="middle">2</text><text transform="translate(162.3 1052.7) rotate(-90)" text-anchor="middle">1</text></g>
<text x="657.6" y="1475.7" font-size="58.3">Vitamin C (μmol/L)</text>
<text transform="translate(43.6 869) rotate(-90)" font-size="58.5">hs-CRP (mg/L)</text>
<g font-size="50">
<text x="1273.5" y="107.4">Age</text>
<text x="1277.5" y="185.3">&lt;12 years</text>
<text x="1277.5" y="244.5">&gt;=12 years</text>
</g>
<circle cx="1207" cy="166.5" r="9.2" fill="#f00"/>
<circle cx="1208.1" cy="225.9" r="11.6" fill="none" stroke="#0ff" stroke-width="3.1"/>
</svg>
</body></html>
